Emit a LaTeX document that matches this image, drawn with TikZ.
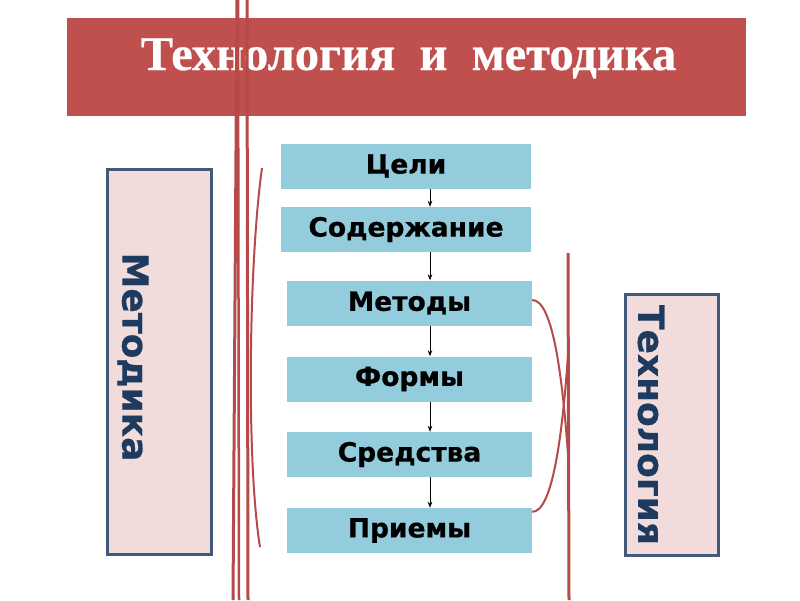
\documentclass[tikz,border=0pt]{standalone}
\usepackage{fontspec}
\setmainfont{Liberation Serif}
\newfontfamily\labelfont[FakeBold=0.6]{DejaVu Sans Bold}
\newfontfamily\titlefont[FakeBold=0.5]{Liberation Serif Bold}
\usetikzlibrary{arrows.meta,calc}
\definecolor{barred}{HTML}{C0504D}
\definecolor{linered}{HTML}{B54A48}
\definecolor{boxblue}{HTML}{93CDDD}
\definecolor{pinkfill}{HTML}{F2DCDB}
\definecolor{pinkborder}{HTML}{42597A}
\definecolor{navy}{HTML}{1F3A5F}
\begin{document}
\begin{tikzpicture}[x=1pt,y=-1pt,
  stagebox/.style={fill=boxblue, inner sep=0pt, minimum height=45pt, font=\labelfont\fontsize{26.5}{30}\selectfont, text=black},
  sidebox/.style={fill=pinkfill, draw=pinkborder, line width=3pt, inner sep=0pt},
  sidelabel/.style={rotate=-90, text=navy, font=\labelfont\fontsize{36}{40}\selectfont, inner sep=0pt},
  flow/.style={-{Stealth[length=6pt,width=4.5pt]}, line width=0.8pt, black},
  redline/.style={draw=linered, line width=3pt},
  thinred/.style={draw=linered, line width=2pt}]
\fill[white] (0,0) rectangle (800,600);
\useasboundingbox (0,0) rectangle (800,600);

% title bar
\node[fill=barred, minimum width=679pt, minimum height=98pt, inner sep=0pt] (bar) at (406.5,67) {};
\node[anchor=base, text=white, inner sep=0pt, font=\titlefont\fontsize{48.5}{52}\selectfont] (title) at (408.5,70) {Технология\ \ и\ \ методика};

% side boxes
\node[sidebox, minimum width=104pt, minimum height=385pt] (leftbox) at (159.5,362) {};
\node[sidelabel] (leftlabel) at (133,357) {Методика};
\node[sidebox, minimum width=93pt, minimum height=261pt] (rightbox) at (671.5,424.5) {};
\node[sidelabel] (rightlabel) at (651,425) {Технология};

% stages
\node[stagebox, minimum width=250pt] (celi) at (406,166) {Цели};
\node[stagebox, minimum width=250pt] (sod) at (406,229.5) {Содержание};
\node[stagebox, minimum width=245pt] (met) at (409.5,303) {Методы};
\node[stagebox, minimum width=245pt] (form) at (409.5,379) {Формы};
\node[stagebox, minimum width=245pt] (sred) at (409.5,454.5) {Средства};
\node[stagebox, minimum width=245pt] (priem) at (409.5,530.5) {Приемы};

\coordinate (ax) at (430,0);
\draw[flow] (celi.south -| ax) -- (sod.north -| ax);
\draw[flow] (sod.south -| ax) -- (met.north -| ax);
\draw[flow] (met.south -| ax) -- (form.north -| ax);
\draw[flow] (form.south -| ax) -- (sred.north -| ax);
\draw[flow] (sred.south -| ax) -- (priem.north -| ax);

% red strokes, left
\draw[redline] (237,0) -- (233,600);
\draw[redline, line width=2.5pt] (238,0) -- (239,600);
\draw[redline] (247,0) -- (248,600);
\draw[thinred] (262,168) .. controls (249,260) and (246,460) .. (260,547);

% red strokes, right
\draw[redline] (568,253) -- (569,600);
\coordinate (e1) at ($(met.east)+(0,-3)$);
\coordinate (e2) at ($(priem.north east)+(0,4)$);
\draw[thinred] (e1) .. controls (552,300) and (562,370) .. (568,455);
\draw[thinred] (e2) .. controls (552,512) and (562,440) .. (568,355);
\end{tikzpicture}
\end{document}
